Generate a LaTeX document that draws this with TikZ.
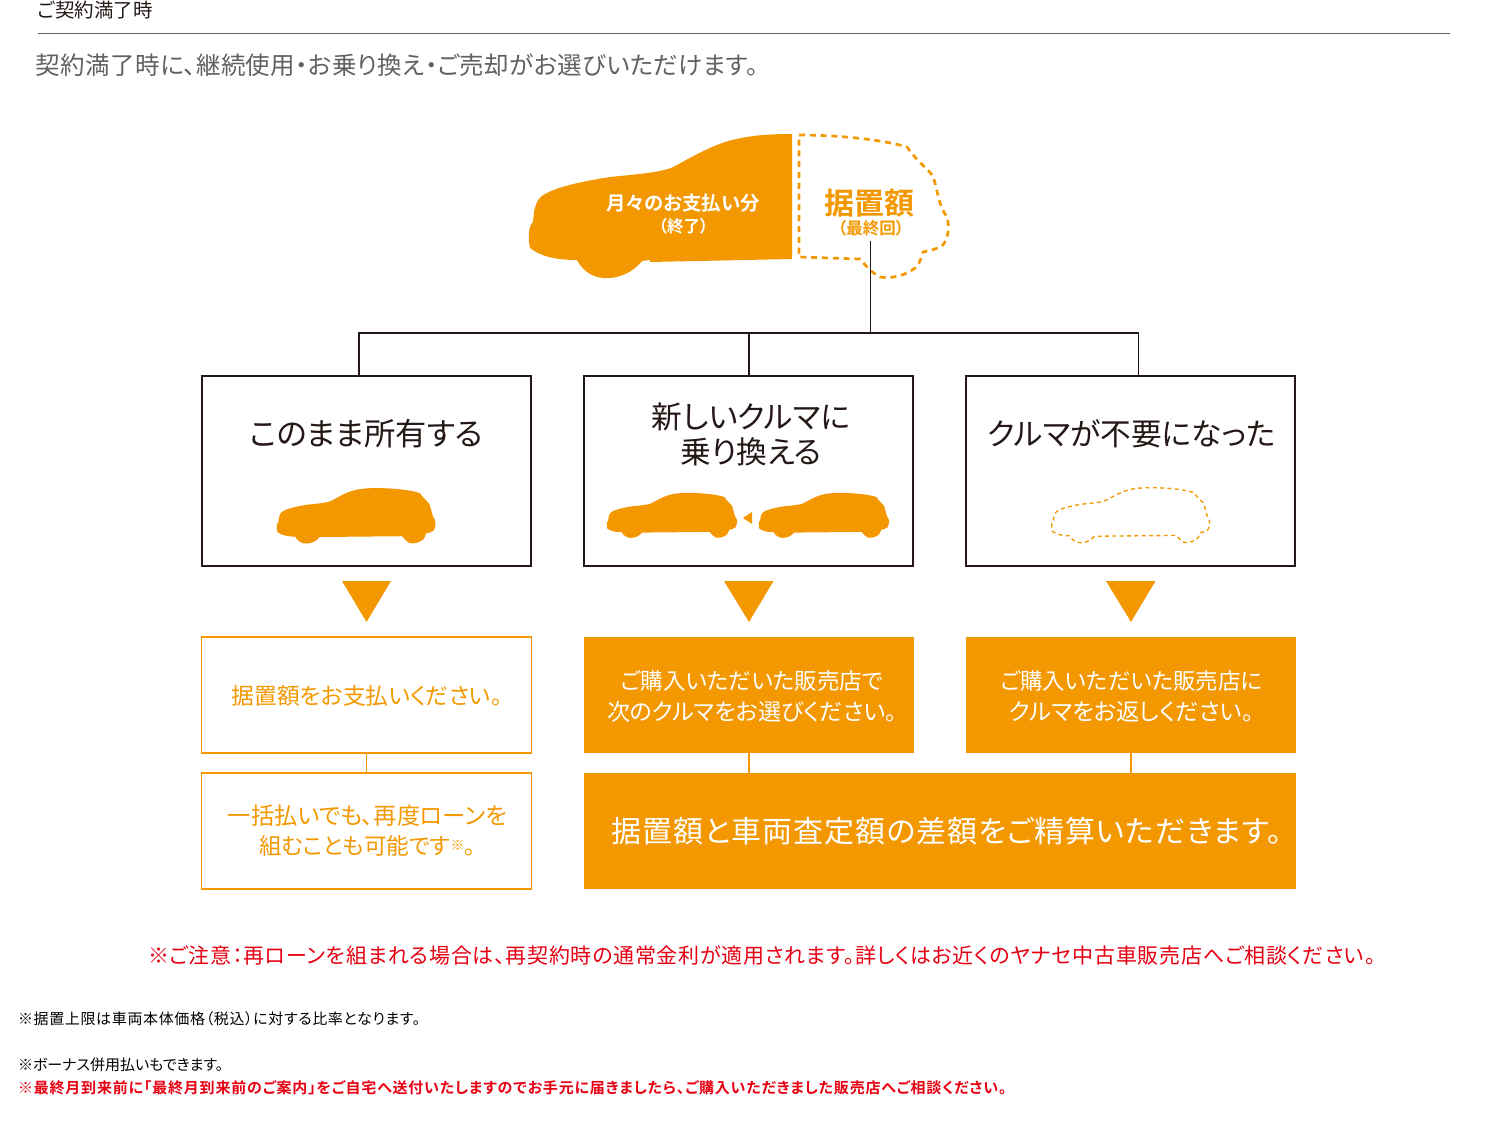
\documentclass[tikz,border=0pt]{standalone}
\usepackage{fontspec}
\setmainfont{Noto Sans CJK JP}[RawFeature={+palt},BoldFont={Noto Sans CJK JP Bold}]
\definecolor{org}{HTML}{F39800}
\definecolor{redn}{HTML}{E60012}
\definecolor{ink}{HTML}{231815}
\newcommand{\fpx}[1]{\fontsize{\the\dimexpr#1pt*3/4\relax}{\the\dimexpr#1pt*15/16\relax}\selectfont}
\newcommand{\carbody}{(792,134) .. controls (765,134) and (745,136) .. (725,142) .. controls (705,149) and (690,158) .. (675,166) .. controls (665,172) and (640,174) .. (610,177) .. controls (585,181) and (560,186) .. (547,193) .. controls (538,197) and (536,203) .. (534,212) -- (533,222) .. controls (528,226) and (528,240) .. (530,248) .. controls (540,256) and (555,260) .. (577,260) .. controls (583,272) and (595,279) .. (608,278) .. controls (622,278) and (635,270) .. (642,261) -- (650,260) -- (650,262) -- (792,259)}
\newcommand{\carwhole}{(529,228) .. controls (528,240) and (529,245) .. (530,248) .. controls (540,256) and (555,260) .. (577,260) .. controls (583,272) and (595,279) .. (608,278) .. controls (622,278) and (635,270) .. (642,261) -- (650,261) -- (860,259) .. controls (865,265) and (872,273) .. (880,277) .. controls (890,279) and (905,276) .. (915,268) .. controls (918,266) and (920,262) .. (923,252) .. controls (930,250) and (936,250) .. (943,245) .. controls (948,238) and (950,228) .. (947,217) .. controls (938,205) and (938,190) .. (933,177) .. controls (930,170) and (920,165) .. (907,147) .. controls (880,138) and (830,134) .. (792,134) .. controls (765,134) and (745,136) .. (725,142) .. controls (705,149) and (690,158) .. (675,166) .. controls (665,172) and (640,174) .. (610,177) .. controls (585,181) and (560,186) .. (547,193) .. controls (538,197) and (536,203) .. (534,212) -- (533,222) -- cycle}
\tikzset{
  txt/.style={inner sep=0pt,outer sep=0pt,align=center},
  lft/.style={txt,anchor=west,align=left},
  choicebox/.style={draw=ink,line width=.95pt,minimum width=246.75pt,minimum height=142.5pt,inner sep=0pt},
  outlinebox/.style={minimum width=247.5pt,minimum height=87pt,inner sep=0pt,outer sep=0pt},
  solidbox/.style={fill=org,minimum width=247.5pt,minimum height=87pt,inner sep=0pt},
  tree/.style={draw=ink,line width=.95pt},
  orgline/.style={draw=org,line width=.8pt},
  dashorg/.style={draw=org,line width=2pt,dash pattern=on 4.5pt off 3.6pt}
}
\begin{document}
\begin{tikzpicture}[x=0.75pt,y=-0.75pt]
\useasboundingbox (0,0) rectangle (1489,1141);
% header
\node[lft,text=ink] (head) at (38,10) {\fpx{19.5}ご契約満了時};
\coordinate (ruleL) at (38,33.5);
\coordinate (ruleR) at (1450,33.5);
\draw[draw=black!60,line width=.75pt] (ruleL) -- (ruleR);
\node[lft,text=black!62] (sub) at (36,65.5) {\fpx{24.5}\addfontfeatures{LetterSpace=1.5}契約満了時に、継続使用・お乗り換え・ご売却がお選びいただけます。};
% big car
\fill[org] \carbody -- cycle;
\draw[dashorg] (799,135) .. controls (835,135) and (880,139) .. (907,147) .. controls (920,165) and (930,170) .. (933,177) .. controls (938,190) and (938,205) .. (947,217) .. controls (950,228) and (948,238) .. (943,245) .. controls (936,250) and (930,250) .. (923,252) .. controls (920,262) and (918,266) .. (915,268) .. controls (905,276) and (890,279) .. (880,277) .. controls (872,273) and (865,265) .. (860,259) -- (799,257) -- cycle;
\node[txt,text=white] (pay) at (683,203.5) {\fpx{19.4}\bfseries 月々のお支払い分};
\node[txt,text=white] (payend) at (683.5,226) {\fpx{16.5}\bfseries （終了）};
\node[txt,text=org] (sueoki) at (869,203) {\fpx{30}\bfseries 据置額};
\node[txt,text=org] (last) at (871,228) {\fpx{16.5}\bfseries （最終回）};
% tree
\coordinate (treetop) at (870.5,241);
\coordinate (bus) at (870.5,333);
\coordinate (busL) at (359,333);
\coordinate (busM) at (749,333);
\coordinate (busR) at (1138.5,333);
\coordinate (dropL) at (359,376);
\coordinate (dropM) at (749,376);
\coordinate (dropR) at (1138.5,376);
\draw[tree] (treetop) -- (bus);
\draw[tree] (dropL) -- (busL) -- (busR) -- (dropR);
\draw[tree] (busM) -- (dropM);
% choice boxes
\node[choicebox] (c1) at (366.5,471) {};
\node[choicebox] (c2) at (748.5,471) {};
\node[choicebox] (c3) at (1130.5,471) {};
\node[txt,text=ink] (t1) at (366.5,433.5) {\fpx{31.3}このまま所有する};
\node[txt,text=ink] (t2) at (751,434.5) {\fpx{30.7}新しいクルマに\\[4.5pt]\fpx{30.7}乗り換える};
\node[txt,text=ink] (t3) at (1131.5,433.5) {\fpx{30.7}クルマが不要になった};
% small cars
\begin{scope}[shift={(77,436.5)},xscale=.378,yscale=.385]
\fill[org] \carwhole;
\end{scope}
\begin{scope}[shift={(443,451)},xscale=.31,yscale=.3125]
\fill[org] \carwhole;
\end{scope}
\begin{scope}[shift={(595,451)},xscale=.31,yscale=.3125]
\fill[org] \carwhole;
\end{scope}
\fill[org] (743,518) -- (752,512) -- (752,524) -- cycle;
\begin{scope}[shift={(853,436.5)},xscale=.376,yscale=.382]
\draw[draw=org,line width=1pt,dash pattern=on 3pt off 2.5pt] \carwhole;
\end{scope}
% triangles
\fill[org] (342,581) -- (391,581) -- (366.5,622) -- cycle;
\fill[org] (724,581) -- (773.5,581) -- (749,622) -- cycle;
\fill[org] (1106,581) -- (1155.5,581) -- (1131,622) -- cycle;
% result boxes
\node[outlinebox] (r1) at (366.5,695) {};
\node[solidbox] (r2) at (749,695) {};
\node[solidbox] (r3) at (1131,695) {};
\node[outlinebox] (s1) at (366.5,831) {};
\draw[orgline] (r1.south west) rectangle (r1.north east);
\draw[orgline] (s1.south west) rectangle (s1.north east);
\node[fill=org,minimum width=534pt,minimum height=87pt,inner sep=0pt] (s2) at (940,831) {};
\node[txt,text=org] (r1t) at (367,696) {\fpx{22.8}据置額をお支払いください。};
\node[txt,text=white] (r2t) at (752,696.5) {\fpx{22.6}ご購入いただいた販売店で\\[6.75pt]\fpx{23.1}次のクルマをお選びください。};
\node[txt,text=white] (r3t) at (1131.5,696.5) {\fpx{22.5}ご購入いただいた販売店に\\[6.75pt]\fpx{23.3}クルマをお返しください。};
\node[txt,text=org] (s1t) at (367.5,830.5) {\fpx{23.3}一括払いでも、再度ローンを\\[6pt]\fpx{22.6}組むことも可能です{\fpx{14}\raisebox{.5ex}{\bfseries ※}}。};
\node[txt,text=white] (s2t) at (947,831) {\fpx{30}\addfontfeatures{LetterSpace=3.2}据置額と車両査定額の差額をご精算いただきます。};
\draw[orgline] (r1.south) -- (s1.north);
\coordinate (a2) at (749,753);
\coordinate (b2) at (749,773);
\coordinate (a3) at (1131,753);
\coordinate (b3) at (1131,773);
\draw[orgline] (a2) -- (b2);
\draw[orgline] (a3) -- (b3);
% notes
\node[lft,text=redn] (n1) at (148,955.5) {\fpx{21}\addfontfeatures{LetterSpace=3.4}※ご注意：再ローンを組まれる場合は、再契約時の通常金利が適用されます。詳しくはお近くのヤナセ中古車販売店へご相談ください。};
\node[lft,text=black] (n2) at (18,1018.5) {\fpx{15}\addfontfeatures{LetterSpace=4.3}※据置上限は車両本体価格（税込）に対する比率となります。};
\node[lft,text=black] (n3) at (18,1065) {\fpx{15}※ボーナス併用払いもできます。};
\node[lft,text=redn] (n4) at (18,1088) {\fpx{15}\bfseries\addfontfeatures{LetterSpace=5.4}※最終月到来前に「最終月到来前のご案内」をご自宅へ送付いたしますのでお手元に届きましたら、ご購入いただきました販売店へご相談ください。};
\end{tikzpicture}
\end{document}
